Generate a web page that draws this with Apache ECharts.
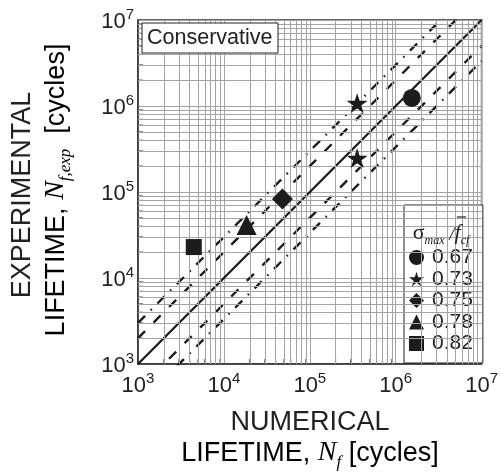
<!DOCTYPE html>
<html><head><meta charset="utf-8">
<script src="https://cdn.jsdelivr.net/npm/echarts@6/dist/echarts.min.js"></script>
<style>html,body{margin:0;padding:0;background:#fff}#c{width:501px;height:476px}</style>
</head><body><div id="c"></div>
<script>
// ---- data ----
const ratioNames = ['0.67', '0.73', '0.75', '0.78', '0.82'];
const numericalLife = [[1.54e6], [3.56e5, 3.56e5], [4.8e4], [1.84e4], [4.46e3]];
const experimentalLife = [[1.24e6], [1.08e6, 2.48e5], [8.3e4], [4.13e4], [2.29e4]];
const tickExponents = [3, 4, 5, 6, 7];
const bandFactors = [2, 3];
const axisMin = 1e3, axisMax = 1e7;

// ---- styling ----
const INK = '#1c1c1c';
const GRIDC = '#a4a4a4';
const SANS = 'Liberation Sans, Arial, sans-serif';
const SERIF = 'Liberation Serif, Times New Roman, serif';
const starPath = 'path://M50,0 L61.17,34.63 L97.55,34.55 L68.07,55.87 L79.39,90.45 L50,69 L20.61,90.45 L31.93,55.87 L2.45,34.55 L38.83,34.63 Z';
const symbols = ['circle', starPath, 'diamond', 'triangle', 'rect'];
const symbolSizes = [18, 21, 21, 20, 16];

// minor grid values (2..9 per decade)
const minorVals = [];
for (let e = tickExponents[0]; e < tickExponents[tickExponents.length - 1]; e++) {
  for (let m = 2; m <= 9; m++) minorVals.push(m * Math.pow(10, e));
}

const series = [];
series.push({
  type: 'line', data: [], silent: true, z: 1,
  markLine: {
    silent: true, symbol: ['none', 'none'], label: { show: false }, animation: false,
    lineStyle: { color: GRIDC, width: 1, type: 'solid' },
    emphasis: { disabled: true },
    data: minorVals.map(v => ({ xAxis: v })).concat(minorVals.map(v => ({ yAxis: v })))
  }
});
series.push({
  type: 'custom', silent: true, z: 3,
  data: minorVals.map(v => [v, axisMin]),
  renderItem: (p, api) => {
    const pt = api.coord([api.value(0), axisMin]);
    return { type: 'line', shape: { x1: pt[0], y1: pt[1], x2: pt[0], y2: pt[1] - 5 }, style: { stroke: '#444', lineWidth: 1 } };
  }
});
series.push({
  type: 'custom', silent: true, z: 3,
  data: minorVals.map(v => [axisMin, v]),
  renderItem: (p, api) => {
    const pt = api.coord([axisMin, api.value(1)]);
    return { type: 'line', shape: { x1: pt[0], y1: pt[1], x2: pt[0] + 5, y2: pt[1] }, style: { stroke: '#444', lineWidth: 1 } };
  }
});
series.push({
  type: 'line', data: [[axisMin, axisMin], [axisMax, axisMax]], symbol: 'none', clip: true, silent: true, z: 4,
  lineStyle: { color: INK, width: 2.3 }
});
bandFactors.forEach((f, i) => {
  const dash = i === 0 ? [10, 12] : [10, 8, 1.5, 8];
  [f, 1 / f].forEach(k => {
    series.push({
      type: 'line', data: [[axisMin, axisMin * k], [axisMax, axisMax * k]], symbol: 'none', clip: true, silent: true, z: 4,
      lineStyle: { color: INK, width: 2.4, type: dash }
    });
  });
});
ratioNames.forEach((name, i) => {
  series.push({
    name: name, type: 'scatter', z: 6,
    symbol: symbols[i], symbolSize: symbolSizes[i], symbolKeepAspect: true,
    itemStyle: { color: INK, opacity: 1 },
    data: numericalLife[i].map((n, j) => [n, experimentalLife[i][j]])
  });
});

const labelRich = {
  b: { fontSize: 22, fontFamily: SANS, color: '#222', lineHeight: 26, verticalAlign: 'bottom' },
  s: { fontSize: 15, fontFamily: SANS, color: '#222', lineHeight: 14, verticalAlign: 'top' }
};
const fmt = v => '{b|10}{s|' + Math.round(Math.log10(v)) + '}';

const titleRich = {
  t: { fontSize: 27, fontFamily: SANS, color: '#222', lineHeight: 32, verticalAlign: 'bottom' },
  n: { fontSize: 28, fontFamily: SERIF, fontStyle: 'italic', color: '#222', lineHeight: 32, verticalAlign: 'bottom' },
  sb: { fontSize: 17, fontFamily: SERIF, fontStyle: 'italic', color: '#222', lineHeight: 17, verticalAlign: 'bottom', padding: [0, 0, -4, 0] }
};

const option = {
  animation: false,
  backgroundColor: '#fff',
  grid: { left: 138, top: 20, width: 345, height: 344, show: true, borderColor: '#333', borderWidth: 1.5 },
  xAxis: {
    type: 'log', logBase: 10, min: axisMin, max: axisMax,
    axisLine: { show: true, lineStyle: { color: '#333', width: 1.5 } },
    axisTick: { show: false },
    splitLine: { show: true, lineStyle: { color: GRIDC, width: 1 } },
    axisLabel: { margin: 7, formatter: fmt, rich: labelRich }
  },
  yAxis: {
    type: 'log', logBase: 10, min: axisMin, max: axisMax,
    axisLine: { show: true, lineStyle: { color: '#333', width: 1.5 } },
    axisTick: { show: false },
    splitLine: { show: true, lineStyle: { color: GRIDC, width: 1 } },
    axisLabel: { margin: 4, formatter: fmt, rich: labelRich }
  },
  legend: {
    orient: 'vertical', left: 404, top: 205,
    padding: [42, 10, 9, 5], itemGap: 0.5, itemWidth: 15, itemHeight: 15, symbolKeepAspect: true,
    backgroundColor: '#fff', borderColor: '#222', borderWidth: 1, borderRadius: 0,
    selectedMode: false,
    formatter: n => '{t|' + n + '}',
    textStyle: { fontSize: 21, fontFamily: SANS, color: '#222', lineHeight: 20,
      rich: { t: { fontSize: 21, fontFamily: SANS, color: '#222', lineHeight: 20, padding: [0, 0, 0, 3] } } },
    data: ratioNames.map((n, i) => ({ name: n, icon: symbols[i], itemStyle: { color: INK } }))
  },
  graphic: [
    { type: 'rect', z: 100, shape: { x: 142, y: 23, width: 136, height: 30 }, style: { fill: '#fff', stroke: '#222', lineWidth: 1 } },
    { type: 'text', z: 101, x: 147, y: 38.5, style: { text: 'Conservative', fontSize: 21.5, fontFamily: SANS, fill: '#222', align: 'left', verticalAlign: 'middle' } },
    { type: 'text', z: 101, x: 441, y: 231, style: {
        text: '{g|σ}{sb|max}{sl| /}{f|f}{sb|cf}', align: 'center', verticalAlign: 'middle',
        rich: {
          g: { fontSize: 22, fontFamily: SERIF, fill: '#222', lineHeight: 26, verticalAlign: 'bottom' },
          sl: { fontSize: 19, fontFamily: SERIF, fontStyle: 'italic', fill: '#222', lineHeight: 26, verticalAlign: 'bottom' },
          f: { fontSize: 22, fontFamily: SERIF, fontStyle: 'italic', fill: '#222', lineHeight: 26, verticalAlign: 'bottom' },
          sb: { fontSize: 12, fontFamily: SERIF, fontStyle: 'italic', fill: '#222', lineHeight: 12, verticalAlign: 'bottom', padding: [0, 0, -3, 0] }
        }
      } },
    { type: 'line', z: 101, shape: { x1: 457, y1: 217, x2: 466, y2: 217 }, style: { stroke: '#222', lineWidth: 1.2 } },
    { type: 'text', x: 310, y: 423, style: { text: 'NUMERICAL', fontSize: 27, fontFamily: SANS, fill: '#222', align: 'center', verticalAlign: 'middle' } },
    { type: 'text', x: 310, y: 451, style: { text: '{t|LIFETIME, }{n|N}{sb|f}{t| [cycles]}', align: 'center', verticalAlign: 'middle', rich: titleRich } },
    { type: 'text', x: 23, y: 195, rotation: Math.PI / 2, style: { text: 'EXPERIMENTAL', fontSize: 27, fontFamily: SANS, fill: '#222', align: 'center', verticalAlign: 'middle' } },
    { type: 'text', x: 54, y: 190, rotation: Math.PI / 2, style: { text: '{t|LIFETIME, }{n|N}{sb|f,exp}{t|  [cycles]}', align: 'center', verticalAlign: 'middle', rich: titleRich } }
  ],
  series: series
};

const chart = echarts.init(document.getElementById('c'), null, { renderer: 'canvas' });
chart.setOption(option);
</script>
</body></html>
